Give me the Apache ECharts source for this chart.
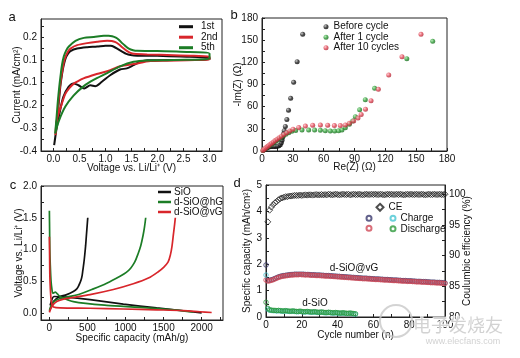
<!DOCTYPE html>
<html><head><meta charset="utf-8">
<script src="https://cdn.jsdelivr.net/npm/echarts/dist/echarts.min.js"></script>
<style>html,body{margin:0;padding:0;background:#fff}#c{width:520px;height:358px}</style>
</head><body><div id="c"></div>
<script>
// ---------- Tick values / labels ----------
const aXTicks = [0, 0.5, 1, 1.5, 2, 2.5, 3];
const aYTicks = [-0.4, -0.3, -0.2, -0.1, 0, 0.1];
const aYTickLabels = ['-0.4', '-0.3', '-0.2', '-0.1', '0.1', '0.2'];
const bTicks = [0, 30, 60, 90, 120, 150, 180];
const cXTicks = [0, 500, 1000, 1500, 2000];
const cYTicks = [0, 0.5, 1, 1.5, 2];
const dXTicks = [0, 20, 40, 60, 80, 100];
const dYTicks = [0, 1, 2, 3, 4, 5];
const dY2Ticks = [80, 85, 90, 95, 100];

// ---------- Panel a : CV curves [voltage, current] ----------
const cv1st = [[0.013,-0.374],[0.04,-0.33],[0.077,-0.24],[0.103,-0.184],[0.135,-0.11],[0.167,-0.059],[0.19,-0.03],[0.231,0.006],[0.28,0.027],[0.327,0.039],[0.455,0.050],[0.647,0.056],[0.84,0.059],[1.0,0.063],[1.1,0.062],[1.16,0.058],[1.24,0.048],[1.32,0.037],[1.40,0.027],[1.48,0.022],[1.609,0.019],[1.994,0.018],[2.442,0.015],[3.0,0.009],
  [3.0,0.002],[2.5,0.0],[1.99,-0.001],[1.80,-0.001],[1.67,-0.008],[1.54,-0.023],[1.41,-0.037],[1.28,-0.042],[1.09,-0.067],[0.93,-0.096],[0.80,-0.115],[0.71,-0.111],[0.59,-0.125],[0.48,-0.111],[0.385,-0.103],[0.29,-0.118],[0.19,-0.162],[0.12,-0.23],[0.06,-0.30],[0.013,-0.374]];
const cv2nd = [[0.038,-0.330],[0.08,-0.24],[0.103,-0.169],[0.135,-0.10],[0.167,-0.052],[0.2,-0.01],[0.231,0.014],[0.28,0.037],[0.327,0.050],[0.455,0.065],[0.647,0.074],[0.84,0.080],[1.032,0.084],[1.12,0.083],[1.192,0.078],[1.26,0.068],[1.32,0.056],[1.417,0.039],[1.48,0.031],[1.545,0.027],[1.801,0.024],[2.314,0.021],[2.699,0.018],[3.0,0.014],
  [3.0,0.002],[2.571,-0.001],[2.186,-0.003],[1.865,-0.005],[1.545,-0.018],[1.28,-0.028],[1.09,-0.045],[0.83,-0.062],[0.577,-0.081],[0.455,-0.095],[0.385,-0.105],[0.30,-0.125],[0.225,-0.150],[0.15,-0.20],[0.065,-0.264],[0.038,-0.330]];
const cv5th = [[0.032,-0.323],[0.06,-0.25],[0.083,-0.184],[0.11,-0.12],[0.135,-0.071],[0.165,-0.02],[0.199,0.016],[0.245,0.042],[0.295,0.059],[0.423,0.084],[0.583,0.097],[0.776,0.101],[0.968,0.106],[1.06,0.106],[1.128,0.104],[1.2,0.098],[1.256,0.089],[1.32,0.074],[1.38,0.062],[1.449,0.050],[1.53,0.043],[1.609,0.040],[1.994,0.039],[2.442,0.036],[3.0,0.028],
  [3.0,0.006],[2.314,0.0],[1.8,-0.002],[1.54,-0.008],[1.28,-0.028],[1.03,-0.058],[0.77,-0.088],[0.577,-0.116],[0.385,-0.157],[0.225,-0.206],[0.10,-0.27],[0.032,-0.323]];

// ---------- Panel b : Nyquist [Re, -Im] ----------
const eisBefore = [[1.5,1.5],[3,3],[4.5,4.2],[6,5.2],[7.5,5.8],[9,6],[10.5,6],[12,6],[13.5,6.2],[15,6.5],[16.5,7],[17.8,8.5],[18.8,11],[19.5,14.5],[20.1,18.5],[20.8,23],[21.6,27.5],[22.7,33.2],[24.2,42.6],[25.8,55.2],[27.9,71.3],[30.8,93],[34.2,120.9],[39.6,158]];
const eisAfter1 = [[1,0.8],[2,2],[3.2,3.2],[4.5,4.5],[6,6],[7.5,7.5],[9,9],[10.5,10.5],[12,12],[13.5,13.5],[15,15],[16.8,16.8],[18.7,18.6],[20.8,20.5],[23.2,22.6],[26,24.8],[29,26.6],[32.8,27.8],[38.9,28.4],[45.4,28.4],[51.2,28.4],[56.8,28],[61.6,27.5],[66.5,27.1],[70.7,27.1],[74.6,27.3],[77.8,28.4],[81.1,31.6],[85,36.1],[88.2,40.6],[90.8,46.5],[95,55.8],[100.5,69.5],[109.6,84.8],[140.9,125],[166.1,148.4]];
const eisAfter10 = [[0.8,0.8],[1.8,2],[2.8,3.2],[4,4.6],[5.3,6],[6.6,7.5],[8,9],[9.5,10.6],[11.1,12.3],[12.8,14.1],[14.7,16],[16.7,18],[18.9,20.1],[21.3,22.4],[24,24.8],[27,27.2],[30.2,29.4],[35.7,31.8],[42.2,33.8],[49.3,35],[56.8,35.2],[63.9,34.9],[70.4,34.5],[76.2,34.5],[81.1,35.2],[85,37.4],[89.2,40.6],[93.4,44.5],[96.5,49.5],[100.7,56.6],[106.1,68.1],[113.2,83.5],[123.3,102.9],[136.2,127.6],[154.7,157.9]];

// ---------- Panel c : charge/discharge [capacity, voltage] ----------
const sioCharge = [[9,0.05],[30,0.13],[53,0.18],[118,0.25],[228,0.29],[315,0.34],[360,0.38],[381,0.42],[400,0.47],[416,0.52],[430,0.59],[438,0.66],[452,0.78],[464,0.91],[476,1.06],[486,1.22],[495,1.36],[504,1.5]];
const sioDis = [[10,0.12],[35,0.22],[60,0.26],[228,0.25],[534,0.21],[971,0.14],[1409,0.08],[1759,0.036],[2000,0.003]];
const hgCharge = [[0,0.036],[31,0.14],[97,0.21],[228,0.25],[403,0.30],[578,0.38],[753,0.47],[928,0.58],[1010,0.64],[1070,0.71],[1120,0.8],[1164,0.93],[1200,1.06],[1230,1.22],[1250,1.36],[1265,1.5]];
const hgDis = [[0,1.61],[3,1.3],[6,1.0],[12,0.75],[22,0.5],[35,0.36],[45,0.31],[80,0.33],[105,0.30],[140,0.26],[315,0.18],[753,0.12],[1190,0.09],[1627,0.05],[1890,0.016]];
const vgCharge = [[0,0.01],[31,0.10],[97,0.18],[228,0.23],[534,0.29],[840,0.37],[1102,0.46],[1300,0.55],[1430,0.65],[1500,0.72],[1558,0.80],[1590,0.92],[1610,1.05],[1630,1.25],[1645,1.4],[1654,1.5]];
const vgDis = [[0,1.2],[3,0.9],[6,0.6],[12,0.4],[22,0.22],[35,0.13],[53,0.095],[140,0.08],[534,0.075],[971,0.063],[1409,0.05],[1759,0.038],[1977,0.02],[2131,0.008]];

// ---------- Panel d : cycling (array index = cycle number) ----------
const vgDischargeCap = [1.40,1.36,1.37,1.39,1.41,1.44,1.47,1.50,1.52,1.54,
 1.55,1.56,1.57,1.58,1.59,1.59,1.60,1.60,1.60,1.61,
 1.60,1.60,1.59,1.60,1.59,1.58,1.58,1.58,1.57,1.57,
 1.57,1.56,1.56,1.55,1.55,1.55,1.54,1.54,1.53,1.53,
 1.52,1.52,1.51,1.51,1.50,1.50,1.49,1.49,1.48,1.48,
 1.47,1.47,1.46,1.46,1.45,1.45,1.45,1.44,1.44,1.43,
 1.43,1.42,1.42,1.42,1.41,1.41,1.40,1.40,1.40,1.39,
 1.39,1.38,1.38,1.38,1.37,1.37,1.36,1.36,1.36,1.35,
 1.35,1.35,1.34,1.34,1.33,1.33,1.33,1.32,1.32,1.32,
 1.31,1.31,1.30,1.30,1.30,1.29,1.29,1.29,1.28,1.28,1.27];
const vgChargeCap = [1.97,1.39,1.39,1.41,1.43,1.46,1.49,1.52,1.54,1.56,
 1.57,1.58,1.59,1.60,1.61,1.61,1.62,1.62,1.62,1.62,
 1.62,1.62,1.61,1.61,1.61,1.60,1.60,1.60,1.59,1.59,
 1.59,1.58,1.58,1.57,1.57,1.57,1.56,1.56,1.55,1.55,
 1.54,1.54,1.53,1.53,1.52,1.52,1.51,1.51,1.50,1.50,
 1.49,1.49,1.48,1.48,1.47,1.47,1.47,1.46,1.46,1.45,
 1.45,1.44,1.44,1.44,1.43,1.43,1.42,1.42,1.42,1.41,
 1.41,1.40,1.40,1.40,1.39,1.39,1.38,1.38,1.38,1.37,
 1.37,1.37,1.36,1.36,1.35,1.35,1.35,1.34,1.34,1.34,
 1.33,1.33,1.32,1.32,1.32,1.31,1.31,1.31,1.30,1.30,1.29];
const sioDischargeCap = [0.56,0.33,0.27,0.26,0.25,0.25,0.24,0.25,0.24,0.23,
 0.23,0.24,0.23,0.22,0.22,0.23,0.22,0.21,0.21,0.22,
 0.21,0.20,0.20,0.21,0.20,0.19,0.19,0.20,0.19,0.18,
 0.18,0.19,0.18,0.17,0.17,0.18,0.17,0.16,0.16,0.17,
 0.16,0.15,0.15,0.16,0.15,0.14,0.14,0.15,0.14,0.13,0.12];
const sioChargeCap = [1.59,0.30,0.26,0.25,0.24,0.24,0.23,0.24,0.23,0.22,
 0.22,0.23,0.22,0.21,0.21,0.22,0.21,0.20,0.20,0.21,
 0.20,0.19,0.19,0.20,0.19,0.18,0.18,0.19,0.18,0.17,
 0.17,0.18,0.17,0.16,0.16,0.17,0.16,0.15,0.15,0.16,
 0.15,0.14,0.14,0.15,0.14,0.13,0.13,0.14,0.13,0.12,0.11];
const ceValues = [95.5,97.4,97.9,98.3,98.6,98.8,99.1,99.3,99.4,99.5,
 99.6,99.6,99.7,99.7,99.75,99.8,99.8,99.8,99.85,99.8,
 99.85,99.9,99.85,99.9,99.9,99.85,99.9,99.95,99.9,99.9,
 99.95,99.9,99.95,99.9,100.0,99.95,99.9,99.95,100.0,99.95,
 99.9,99.95,100.0,99.95,99.95,100.0,99.9,99.95,100.0,99.95,
 99.95,100.0,99.95,99.9,99.95,100.0,99.95,99.95,100.0,99.95,
 100.0,99.95,99.95,100.0,99.95,99.9,99.95,100.0,99.95,100.0,
 99.95,99.95,100.0,99.95,100.0,99.95,99.9,99.95,100.0,99.95,
 100.0,99.95,99.95,100.0,99.95,99.95,100.0,99.95,99.9,99.95,
 100.0,99.95,99.95,100.0,99.95,99.95,100.0,99.95,99.95,100.0];

const FONT = '"Liberation Sans", Arial, sans-serif';
const TXT = {fontFamily: FONT, fontSize: 10, color: '#111'};
const byIndex = (arr, start) => arr.map((v, i) => [i + start, v]);
// majors plus midpoints (minor ticks) inside [min,max]
function withMinors(majors, min, max) {
  const step = majors[1] - majors[0], out = [];
  majors.forEach(m => { out.push(m); });
  majors.forEach(m => { [m - step / 2, m + step / 2].forEach(h => { if (h >= min - 1e-9 && h <= max + 1e-9 && out.every(o => Math.abs(o - h) > 1e-9)) out.push(h); }); });
  return out.sort((p, q) => p - q);
}

function axis(grid, min, max, majors, name, fmt, gap, pos) {
  return {type: 'value', gridIndex: grid, min, max, position: pos,
    name, nameLocation: 'middle', nameGap: gap, nameMoveOverlap: false, nameTextStyle: TXT,
    axisLine: {show: true, onZero: false, lineStyle: {color: '#222', width: 1}},
    axisTick: {show: true, inside: true, length: 3, customValues: withMinors(majors, min, max), lineStyle: {color: '#222'}},
    splitLine: {show: false},
    axisLabel: Object.assign({margin: pos === 'left' || pos === 'right' ? 4 : 3, customValues: majors, formatter: fmt}, TXT)};
}

const chart = echarts.init(document.getElementById('c'), null, {renderer: 'canvas'});
const hollow = c => ({color: 'rgba(0,0,0,0)', borderColor: c, borderWidth: 1});
const sphere = (c0, c1, c2) => ({color: {type: 'radial', x: 0.35, y: 0.35, r: 0.75,
  colorStops: [{offset: 0, color: c0}, {offset: 0.5, color: c1}, {offset: 1, color: c2}]}});

const legendBase = {orient: 'vertical', textStyle: Object.assign({lineHeight: 10}, TXT), itemGap: 0.5, selectedMode: false, padding: 0};

chart.setOption({
  animation: false,
  backgroundColor: '#fff',
  grid: [
    {left: 41, top: 19, width: 181, height: 132, show: true, borderColor: '#222', borderWidth: 1},
    {left: 262, top: 18, width: 185, height: 133, show: true, borderColor: '#222', borderWidth: 1},
    {left: 41, top: 186, width: 182, height: 134, show: true, borderColor: '#222', borderWidth: 1},
    {left: 266, top: 185, width: 179, height: 132, show: true, borderColor: '#222', borderWidth: 1}
  ],
  xAxis: [
    axis(0, -0.24, 3.24, aXTicks, 'Voltage vs. Li/Li\u207a (V)', v => v.toFixed(1), 12, 'bottom'),
    axis(1, 0, 180, bTicks, 'Re(Z) (\u03a9)', v => String(v), 11, 'bottom'),
    axis(2, -110, 2280, cXTicks, 'Specific capacity (mAh/g)', v => String(v), 13, 'bottom'),
    axis(3, 0, 100, dXTicks, 'Cycle number (n)', v => String(v), 13, 'bottom')
  ],
  yAxis: [
    axis(0, -0.4, 0.18, aYTicks, 'Current (mA/cm\u00b2)', v => {
      const i = aYTicks.findIndex(t => Math.abs(t - v) < 1e-6);
      return i >= 0 ? aYTickLabels[i] : '';
    }, 19, 'left'),
    axis(1, 0, 180, bTicks, '-Im(Z) (\u03a9)', v => String(v), 19, 'left'),
    axis(2, -0.11, 2.0, cYTicks, 'Voltage vs. Li/Li\u207a (V)', v => v.toFixed(1), 17, 'left'),
    axis(3, 0, 5, dYTicks, 'Specific capacity (mAh/cm\u00b2)', v => String(v), 14, 'left'),
    axis(3, 80, 101.5, dY2Ticks, 'Coulumbic efficiency (%)', v => String(v), 17, 'right')
  ],
  legend: [
    Object.assign({}, legendBase, {data: ['1st', '2nd', '5th'], left: 179, top: 21.7, icon: 'rect', itemWidth: 14, itemHeight: 3,
      textStyle: Object.assign({lineHeight: 10, padding: [0, 0, 0, 3]}, TXT)}),
    Object.assign({}, legendBase, {data: ['Before cycle', 'After 1 cycle', 'After 10 cycles'], left: 323.5, top: 21.7, icon: 'circle', itemWidth: 5, itemHeight: 5}),
    Object.assign({}, legendBase, {data: ['SiO', 'd-SiO@hG', 'd-SiO@vG'], left: 158, top: 187, icon: 'rect', itemWidth: 13, itemHeight: 2.5, itemGap: 0,
      textStyle: Object.assign({lineHeight: 10, padding: [0, 0, 0, -2]}, TXT)}),
    Object.assign({}, legendBase, {data: ['CE'], left: 375.5, top: 202.3, icon: 'diamond', itemWidth: 7, itemHeight: 7}),
    Object.assign({}, legendBase, {data: ['Charge vG'], left: 365.5, top: 213.3, icon: 'circle', itemWidth: 5, itemHeight: 5,
      textStyle: Object.assign({lineHeight: 10}, TXT, {color: 'rgba(0,0,0,0)'}), formatter: () => 'x'}),
    Object.assign({}, legendBase, {data: ['Discharge vG'], left: 365.5, top: 223.3, icon: 'circle', itemWidth: 5, itemHeight: 5,
      textStyle: Object.assign({lineHeight: 10}, TXT, {color: 'rgba(0,0,0,0)'}), formatter: () => 'x'}),
    Object.assign({}, legendBase, {data: ['Charge', 'Discharge'], left: 389.5, top: 213.3, icon: 'circle', itemWidth: 5, itemHeight: 5})
  ],
  series: [
    {name: '1st', type: 'line', xAxisIndex: 0, yAxisIndex: 0, data: cv1st, symbol: 'none', smooth: 0.3, lineStyle: {color: '#111', width: 2}, itemStyle: {color: '#111'}},
    {name: '2nd', type: 'line', xAxisIndex: 0, yAxisIndex: 0, data: cv2nd, symbol: 'none', smooth: 0.3, lineStyle: {color: '#d8262b', width: 2}, itemStyle: {color: '#d8262b'}},
    {name: '5th', type: 'line', xAxisIndex: 0, yAxisIndex: 0, data: cv5th, symbol: 'none', smooth: 0.3, lineStyle: {color: '#1c7d26', width: 2}, itemStyle: {color: '#1c7d26'}},

    {name: 'Before cycle', type: 'scatter', xAxisIndex: 1, yAxisIndex: 1, data: eisBefore, symbolSize: 5, itemStyle: sphere('#bbbbbb', '#222222', '#000000')},
    {name: 'After 1 cycle', type: 'scatter', xAxisIndex: 1, yAxisIndex: 1, data: eisAfter1, symbolSize: 5, itemStyle: sphere('#a8e8a8', '#2e9a36', '#146018')},
    {name: 'After 10 cycles', type: 'scatter', xAxisIndex: 1, yAxisIndex: 1, data: eisAfter10, symbolSize: 5, itemStyle: sphere('#ffc0c8', '#e04a58', '#a51d2c')},

    {name: 'SiO', type: 'line', xAxisIndex: 2, yAxisIndex: 2, data: sioCharge, symbol: 'none', smooth: 0.3, lineStyle: {color: '#111', width: 1.7}, itemStyle: {color: '#111'}},
    {name: 'SiO', type: 'line', xAxisIndex: 2, yAxisIndex: 2, data: sioDis, symbol: 'none', smooth: 0.3, lineStyle: {color: '#111', width: 1.7}, itemStyle: {color: '#111'}},
    {name: 'd-SiO@hG', type: 'line', xAxisIndex: 2, yAxisIndex: 2, data: hgCharge, symbol: 'none', smooth: 0.3, lineStyle: {color: '#1c7d26', width: 1.7}, itemStyle: {color: '#1c7d26'}},
    {name: 'd-SiO@hG', type: 'line', xAxisIndex: 2, yAxisIndex: 2, data: hgDis, symbol: 'none', smooth: 0.3, lineStyle: {color: '#1c7d26', width: 1.7}, itemStyle: {color: '#1c7d26'}},
    {name: 'd-SiO@vG', type: 'line', xAxisIndex: 2, yAxisIndex: 2, data: vgCharge, symbol: 'none', smooth: 0.3, lineStyle: {color: '#d8262b', width: 1.7}, itemStyle: {color: '#d8262b'}},
    {name: 'd-SiO@vG', type: 'line', xAxisIndex: 2, yAxisIndex: 2, data: vgDis, symbol: 'none', smooth: 0.3, lineStyle: {color: '#d8262b', width: 1.7}, itemStyle: {color: '#d8262b'}},

    {name: 'CE', type: 'scatter', xAxisIndex: 3, yAxisIndex: 4, data: byIndex(ceValues, 1), symbol: 'diamond', symbolSize: 6, clip: false, itemStyle: hollow('#222')},
    {name: 'Charge vG', type: 'scatter', xAxisIndex: 3, yAxisIndex: 3, data: byIndex(vgChargeCap, 0), symbol: 'circle', symbolSize: 4.5, clip: false, itemStyle: hollow('#3b3a6e')},
    {name: 'Discharge vG', type: 'scatter', xAxisIndex: 3, yAxisIndex: 3, data: byIndex(vgDischargeCap, 0), symbol: 'circle', symbolSize: 4.5, clip: false, itemStyle: hollow('#cf4a58')},
    {name: 'Charge', type: 'scatter', xAxisIndex: 3, yAxisIndex: 3, data: byIndex(sioChargeCap, 0), symbol: 'circle', symbolSize: 4.5, clip: false, itemStyle: hollow('#49c6d2')},
    {name: 'Discharge', type: 'scatter', xAxisIndex: 3, yAxisIndex: 3, data: byIndex(sioDischargeCap, 0), symbol: 'circle', symbolSize: 4.5, clip: false, itemStyle: hollow('#2e9a3c')}
  ],
  graphic: [
    {type: 'text', x: 12, y: 17, style: {text: 'a', font: '13px ' + FONT, fill: '#111', align: 'center', verticalAlign: 'middle'}},
    {type: 'text', x: 234, y: 15, style: {text: 'b', font: '13px ' + FONT, fill: '#111', align: 'center', verticalAlign: 'middle'}},
    {type: 'text', x: 13, y: 185, style: {text: 'c', font: '13px ' + FONT, fill: '#111', align: 'center', verticalAlign: 'middle'}},
    {type: 'text', x: 237, y: 183, style: {text: 'd', font: '13px ' + FONT, fill: '#111', align: 'center', verticalAlign: 'middle'}},
    {type: 'text', x: 354, y: 268, style: {text: 'd-SiO@vG', font: '10px ' + FONT, fill: '#111', align: 'center', verticalAlign: 'middle'}},
    {type: 'text', x: 315, y: 303, style: {text: 'd-SiO', font: '10px ' + FONT, fill: '#111', align: 'center', verticalAlign: 'middle'}},
    {type: 'circle', shape: {cx: 396, cy: 321, r: 16}, style: {fill: 'none', stroke: 'rgba(200,200,200,0.8)', lineWidth: 2}, z: 100},
    {type: 'text', x: 458, y: 325, z: 100, style: {text: '电子发烧友', font: '18px "Noto Sans CJK SC"', fill: 'rgba(205,205,205,0.9)', stroke: 'rgba(255,255,255,0.8)', lineWidth: 2, align: 'center', verticalAlign: 'middle'}},
    {type: 'text', x: 463, y: 342, z: 100, style: {text: 'www.elecfans.com', font: '9px ' + FONT, fill: 'rgba(205,205,205,0.9)', align: 'center', verticalAlign: 'middle'}}
  ]
});
</script></body></html>
